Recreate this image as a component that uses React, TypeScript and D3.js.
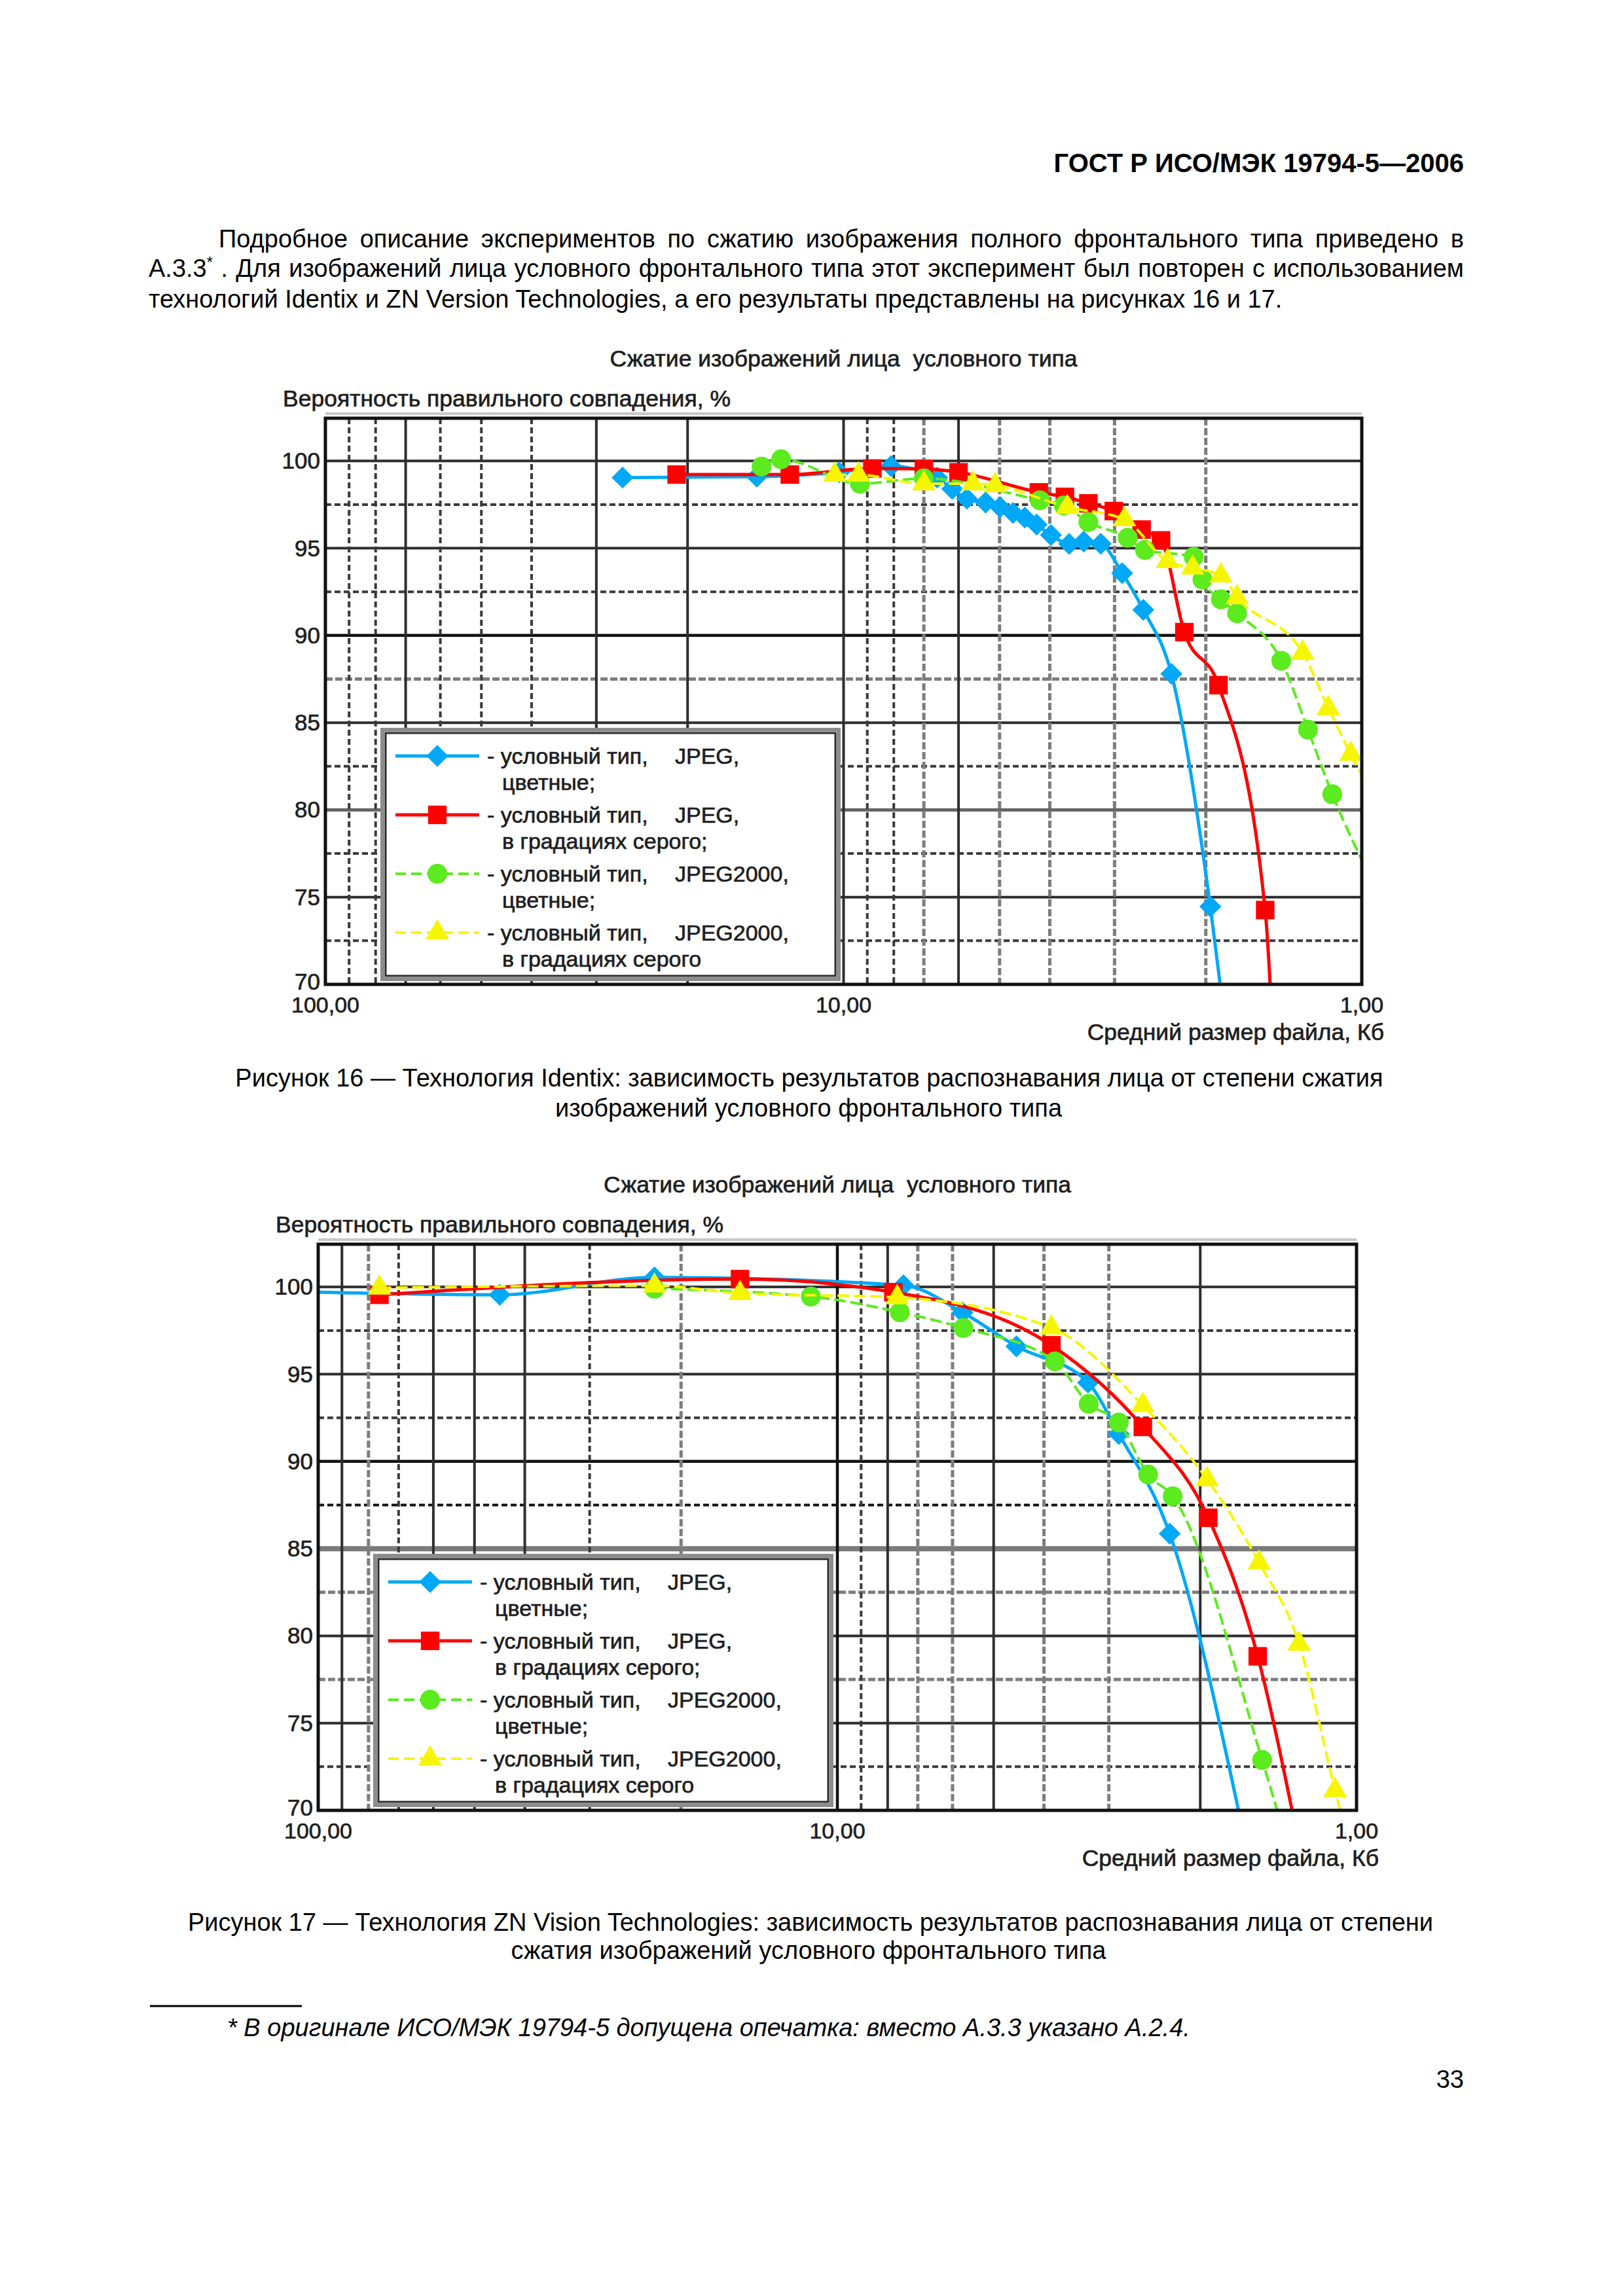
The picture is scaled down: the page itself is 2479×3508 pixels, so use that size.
import React, { useRef, useLayoutEffect } from 'react';
import * as d3 from 'd3';

type Pt = [number, number];

// Рисунок 16 — Identix: [средний размер файла, Кб; вероятность правильного совпадения, %]
const identixJpegColor: Pt[] = [
  [26.7, 99.05], [14.7, 99.1], [10.2, 99.35], [8.1, 99.7], [6.6, 99.05], [6.17, 98.4],
  [5.78, 97.84], [5.32, 97.62], [4.99, 97.36], [4.71, 97.02], [4.47, 96.76], [4.24, 96.35],
  [3.98, 95.75], [3.67, 95.25], [3.44, 95.38], [3.19, 95.26], [2.9, 93.57], [2.64, 91.47],
  [2.33, 87.8], [1.96, 74.46], [1.84, 68.0],
];
const identixJpegGray: Pt[] = [
  [21.0, 99.22], [12.7, 99.22], [8.8, 99.57], [7.0, 99.55], [6.0, 99.35], [4.2, 98.2],
  [3.74, 97.94], [3.37, 97.57], [3.01, 97.13], [2.66, 96.07], [2.44, 95.45], [2.2, 90.19],
  [1.89, 87.15], [1.536, 74.26], [1.49, 68.0],
];
const identixJp2Color: Pt[] = [
  [14.4, 99.68], [13.2, 100.1], [9.3, 98.7], [7.0, 99.0], [4.18, 97.75], [3.76, 97.45],
  [3.37, 96.5], [2.83, 95.6], [2.62, 94.9], [2.11, 94.5], [2.03, 93.2], [1.87, 92.07],
  [1.74, 91.27], [1.43, 88.55], [1.27, 84.6], [1.14, 80.9], [0.95, 75.8],
];
const identixJp2Gray: Pt[] = [
  [10.4, 99.2], [9.36, 99.2], [7.0, 98.7], [5.63, 98.7], [5.1, 98.6], [3.7, 97.35],
  [2.87, 96.65], [2.37, 94.25], [2.12, 93.88], [1.87, 93.43], [1.74, 92.18], [1.3, 89.0],
  [1.16, 85.82], [1.05, 83.2], [0.97, 81.3],
];

// Рисунок 17 — ZN Vision Technologies
const znJpegColor: Pt[] = [
  [108, 99.72], [44.7, 99.55], [22.5, 100.55], [7.46, 100.1], [5.74, 98.54], [4.52, 96.6],
  [3.29, 94.52], [2.87, 91.57], [2.29, 85.86], [1.66, 69.0],
];
const znJpegGray: Pt[] = [
  [76.2, 99.55], [15.4, 100.45], [7.8, 99.7], [3.87, 96.66], [2.58, 91.98], [1.93, 86.77],
  [1.55, 78.83], [1.31, 69.0],
];
const znJp2Color: Pt[] = [
  [22.5, 99.9], [11.25, 99.45], [7.58, 98.55], [5.72, 97.65], [3.81, 95.73], [3.28, 93.3],
  [2.87, 92.23], [2.52, 89.25], [2.26, 88.0], [1.52, 72.89], [1.39, 69.0],
];
const znJp2Gray: Pt[] = [
  [76.2, 99.95], [22.5, 100.07], [15.4, 99.64], [7.67, 99.4], [3.87, 97.66], [2.58, 93.22],
  [1.94, 88.97], [1.54, 84.19], [1.29, 79.54], [1.1, 71.15], [1.045, 68.5],
];

const yTicks = [70, 75, 80, 85, 90, 95, 100];
const xTicks = [100, 10, 1];
const hGridValues = [72.5, 75, 77.5, 80, 82.5, 85, 87.5, 90, 92.5, 95, 97.5, 100];
const vGridValues = [90, 80, 70, 60, 50, 40, 30, 20, 10, 9, 8, 7, 6, 5, 4, 3, 2];

const legendFormats = ['JPEG,', 'JPEG,', 'JPEG2000,', 'JPEG2000,'];
const legendKinds = ['цветные;', 'в градациях серого;', 'цветные;', 'в градациях серого'];

const SANS = '"Liberation Sans", Arial, Helvetica, sans-serif';
const fmtX = d3.formatLocale({ decimal: ',', thousands: ' ', grouping: [3], currency: ['', ''] }).format('.2f');

const GRID: Record<string, { stroke: string; width: number; dash?: string }> = {
  s: { stroke: '#2e2e2e', width: 4 },
  b: { stroke: '#111', width: 4.5 },
  d: { stroke: '#3a3a3a', width: 4, dash: '9 5' },
  bd: { stroke: '#111', width: 4, dash: '9 5' },
  g: { stroke: '#7d7d7d', width: 5, dash: '11 4' },
  k: { stroke: '#7a7a7a', width: 8 },
  l: { stroke: '#666', width: 5 },
};

const SERIES = [
  { color: '#00A8F8', width: 5, dash: undefined, symbol: d3.symbolSquare, size: 560, rotate: 45 },
  { color: '#FF0000', width: 5, dash: undefined, symbol: d3.symbolSquare, size: 800, rotate: 0 },
  { color: '#5CEB1E', width: 4, dash: '18 7', symbol: d3.symbolCircle, size: 720, rotate: 0 },
  { color: '#F6F600', width: 4, dash: '18 7', symbol: d3.symbolTriangle, size: 560, rotate: 0 },
];

// строка, выровненная по ширине за счёт межсловных пробелов
function Justified({ x, y, width, children, ...rest }: any) {
  const ref = useRef<SVGTextElement>(null);
  useLayoutEffect(() => {
    const el = ref.current;
    if (!el) return;
    el.setAttribute('word-spacing', '0');
    const len = el.getComputedTextLength();
    const spaces = (el.textContent || '').split(' ').length - 1;
    if (spaces > 0) el.setAttribute('word-spacing', String((width - len) / spaces));
  }, [width]);
  return <text ref={ref} x={x} y={y} {...rest}>{children}</text>;
}

interface ChartProps {
  id: string;
  x0: number; x1: number; y0: number; y1: number;
  data: Pt[][];
  hStyle: string[];
  vStyle: string[];
}

function Chart({ id, x0, x1, y0, y1, data, hStyle, vStyle }: ChartProps) {
  const x = d3.scaleLog().domain([100, 1]).range([x0, x1]);
  const y = d3.scaleLinear().domain([70, 102.45]).range([y1, y0]);
  const line = d3.line<Pt>().x(d => x(d[0])).y(d => y(d[1])).curve(d3.curveMonotoneX);
  const inside = (d: Pt) => d[0] <= 100 && d[0] >= 1 && d[1] >= 70;
  const bx = x0 + 87, by = y0 + 476, bw = 697, bh = 381;
  const txt = { fontFamily: SANS, fill: '#1e1e1e', stroke: '#1e1e1e', strokeWidth: 0.7 };

  return (
    <g>
      <defs>
        <clipPath id={id}><rect x={x0} y={y0} width={x1 - x0} height={y1 - y0} /></clipPath>
      </defs>

      <text x={(x0 + x1) / 2} y={y0 - 79} fontSize={35.5} textAnchor="middle" style={{ whiteSpace: 'pre' }} {...txt}>
        Сжатие изображений лица  условного типа
      </text>
      <text x={x0 - 65} y={y0 - 18} fontSize={35.5} {...txt}>Вероятность правильного совпадения, %</text>
      <text x={x1 + 34} y={y1 + 85} fontSize={35.5} textAnchor="end" {...txt}>Средний размер файла, Кб</text>

      {/* сетка */}
      {hGridValues.map((v, i) => {
        const g = GRID[hStyle[i]];
        return <line key={'h' + v} x1={x0} x2={x1} y1={y(v)} y2={y(v)} stroke={g.stroke} strokeWidth={g.width} strokeDasharray={g.dash} />;
      })}
      {vGridValues.map((v, i) => {
        const g = GRID[vStyle[i]];
        return <line key={'v' + v} x1={x(v)} x2={x(v)} y1={y0} y2={y1} stroke={g.stroke} strokeWidth={g.width} strokeDasharray={g.dash} />;
      })}

      {/* ряды */}
      <g clipPath={`url(#${id})`}>
        {data.map((pts, i) => {
          const st = SERIES[i];
          const sym = d3.symbol().type(st.symbol).size(st.size)() as string;
          return (
            <g key={i}>
              <path d={line(pts) as string} fill="none" stroke={st.color} strokeWidth={st.width} strokeDasharray={st.dash} />
              {pts.filter(inside).map((d, j) => (
                <path key={j} d={sym} fill={st.color} transform={`translate(${x(d[0])},${y(d[1])}) rotate(${st.rotate})`} />
              ))}
            </g>
          );
        })}
      </g>

      {/* легенда */}
      <rect x={bx} y={by} width={bw} height={bh} fill="#fff" stroke="#8c8c8c" strokeWidth={6} />
      <rect x={bx + 5} y={by + 5} width={bw - 10} height={bh - 10} fill="none" stroke="#2a2a2a" strokeWidth={3} />
      {SERIES.map((st, i) => {
        const ry = by + 40 + 90 * i;
        const sym = d3.symbol().type(st.symbol).size(st.size)() as string;
        return (
          <g key={'lg' + i}>
            <line x1={bx + 20} x2={bx + 148} y1={ry} y2={ry} stroke={st.color} strokeWidth={st.width} strokeDasharray={st.dash ? '16 8' : undefined} />
            <path d={sym} fill={st.color} transform={`translate(${bx + 84},${ry}) rotate(${st.rotate})`} />
            <text x={bx + 160} y={ry + 12} fontSize={34} {...txt}>- условный тип,</text>
            <text x={bx + 447} y={ry + 12} fontSize={34} {...txt}>{legendFormats[i]}</text>
            <text x={bx + 183} y={ry + 52} fontSize={34} {...txt}>{legendKinds[i]}</text>
          </g>
        );
      })}

      {/* рамка */}
      <line x1={x0} x2={x1} y1={y0 - 7} y2={y0 - 7} stroke="#c8c8c8" strokeWidth={4} />
      <rect x={x0} y={y0} width={x1 - x0} height={y1 - y0} fill="none" stroke="#111" strokeWidth={5} />

      {/* подписи осей */}
      {yTicks.map(v => (
        <text key={'yt' + v} x={x0 - 8} y={y(v) + (v === 70 ? 8 : 12)} fontSize={35} textAnchor="end" {...txt}>{v}</text>
      ))}
      {xTicks.map(v => (
        <text key={'xt' + v} x={x(v)} y={y1 + 43} fontSize={34} textAnchor="middle" {...txt}>{fmtX(v)}</text>
      ))}
    </g>
  );
}

export default function App() {
  const body = { fontFamily: SANS, fill: '#000' };
  return (
    <svg width={2479} height={3508} viewBox="0 0 2479 3508" style={{ position: 'absolute', left: 0, top: 0, background: '#fff' }}>
      <rect x={0} y={0} width={2479} height={3508} fill="#fff" />

      <text x={2236} y={263} fontSize={40} fontWeight="bold" textAnchor="end" {...body}>ГОСТ Р ИСО/МЭК 19794-5—2006</text>

      <Justified x={334} y={378} width={1902} fontSize={38} {...body}>
        Подробное описание экспериментов по сжатию изображения полного фронтального типа приведено в
      </Justified>
      <Justified x={227} y={423} width={2009} fontSize={38} {...body}>
        А.3.3<tspan dy={-14} fontSize={24}>*</tspan><tspan dy={14}> . Для изображений лица условного фронтального типа этот эксперимент был повторен с использованием</tspan>
      </Justified>
      <text x={227} y={470} fontSize={38} {...body}>
        технологий Identix и ZN Version Technologies, а его результаты представлены на рисунках 16 и 17.
      </text>

      <Chart
        id="clip16"
        x0={497} x1={2080} y0={639} y1={1504}
        data={[identixJpegColor, identixJpegGray, identixJp2Color, identixJp2Gray]}
        hStyle={['d', 's', 'd', 'l', 'd', 's', 'g', 'b', 'd', 's', 'd', 's']}
        vStyle={['d', 'd', 's', 'd', 'd', 'd', 's', 's', 's', 'd', 'd', 'g', 's', 'g', 'g', 'g', 'g']}
      />

      <text x={1236} y={1660} fontSize={38} textAnchor="middle" {...body}>
        Рисунок 16 — Технология Identix: зависимость результатов распознавания лица от степени сжатия
      </text>
      <text x={1235} y={1706} fontSize={38} textAnchor="middle" {...body}>изображений условного фронтального типа</text>

      <Chart
        id="clip17"
        x0={486} x1={2072} y0={1901} y1={2766}
        data={[znJpegColor, znJpegGray, znJp2Color, znJp2Gray]}
        hStyle={['d', 's', 'g', 's', 'g', 'k', 'bd', 'b', 'd', 's', 'd', 's']}
        vStyle={['s', 'g', 'd', 's', 's', 's', 'd', 'g', 'b', 'd', 's', 'g', 'g', 's', 'g', 'g', 's']}
      />

      <text x={1238} y={2950} fontSize={38} textAnchor="middle" {...body}>
        Рисунок 17 — Технология ZN Vision Technologies: зависимость результатов распознавания лица от степени
      </text>
      <text x={1235} y={2993} fontSize={38} textAnchor="middle" {...body}>сжатия изображений условного фронтального типа</text>

      <line x1={229} x2={461} y1={3065} y2={3065} stroke="#000" strokeWidth={3} />
      <text x={347} y={3111} fontSize={38} fontStyle="italic" {...body}>
        * В оригинале ИСО/МЭК 19794-5 допущена опечатка: вместо А.3.3 указано А.2.4.
      </text>
      <text x={2236} y={3190} fontSize={38} textAnchor="end" {...body}>33</text>
    </svg>
  );
}
